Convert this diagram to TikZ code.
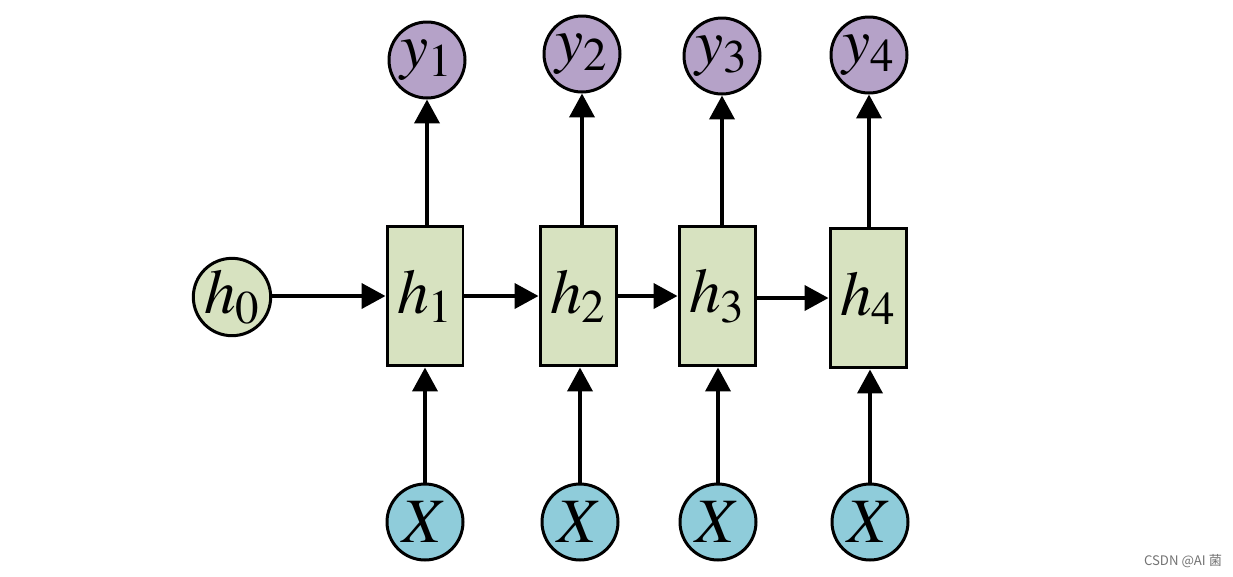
\documentclass[tikz,border=0pt]{standalone}
\usepackage{mathptmx}
\usepackage{fontspec}
\newfontfamily\cjkfont{Noto Sans CJK SC}
\usetikzlibrary{positioning, shapes.geometric, arrows, arrows.meta}

\definecolor{hgreen}{RGB}{215,226,192}
\definecolor{ypurple}{RGB}{181,162,200}
\definecolor{xblue}{RGB}{143,204,218}

\tikzset{
    state/.style = {shape = circle, draw = black, line width = 0.06cm, minimum size = 1.52cm, inner sep = 0pt, font = \fontsize{36}{40}\selectfont},
    cell/.style = {shape = rectangle, draw = black, fill = hgreen, line width = 0.06cm, minimum width = 1.52cm, minimum height = 2.8cm, inner sep = 0pt, font = \fontsize{36}{40}\selectfont},
    flow/.style = {line width = 0.08cm, -{Triangle[length = 0.48cm, width = 0.5cm]}}
}

\begin{document}
\begin{tikzpicture}[x = 0.02cm, y = -0.02cm]
    \useasboundingbox (0, 0) rectangle (1233, 576);

    \node [state, fill = hgreen] (h0) at (232, 297) {$h_0$};

    \node [cell] (h1) at (425, 296) {$h_1$};
    \node [cell] (h2) at (578, 296) {$h_2$};
    \node [cell] (h3) at (717, 296) {$h_3$};
    \node [cell] (h4) at (868, 298) {$h_4$};

    \node [state, fill = ypurple] (y1) at (427, 60) {$y_1$};
    \node [state, fill = ypurple] (y2) at (582, 54) {$y_2$};
    \node [state, fill = ypurple] (y3) at (722, 56) {$y_3$};
    \node [state, fill = ypurple] (y4) at (869, 55) {$y_4$};

    \node [state, fill = xblue] (x1) at (425, 522) {$X$};
    \node [state, fill = xblue] (x2) at (580, 522) {$X$};
    \node [state, fill = xblue] (x3) at (718, 522) {$X$};
    \node [state, fill = xblue] (x4) at (870, 522) {$X$};

    \draw [flow] (h0.east |- h1) -- (h1);
    \draw [flow] (h1) -- (h2);
    \draw [flow] (h2) -- (h3);
    \draw [flow] (h3.east |- h4) -- (h4);

    \foreach \i in {1, 2, 3, 4} {
        \draw [flow] (x\i) -- (x\i |- h\i.south);
        \draw [flow] (h\i.north -| y\i) -- (y\i);
    }

    \node [text = black!55, font = \cjkfont\fontsize{7.5}{9}\selectfont] (mark) at (1183, 561) {CSDN @AI 菌};
\end{tikzpicture}
\end{document}
